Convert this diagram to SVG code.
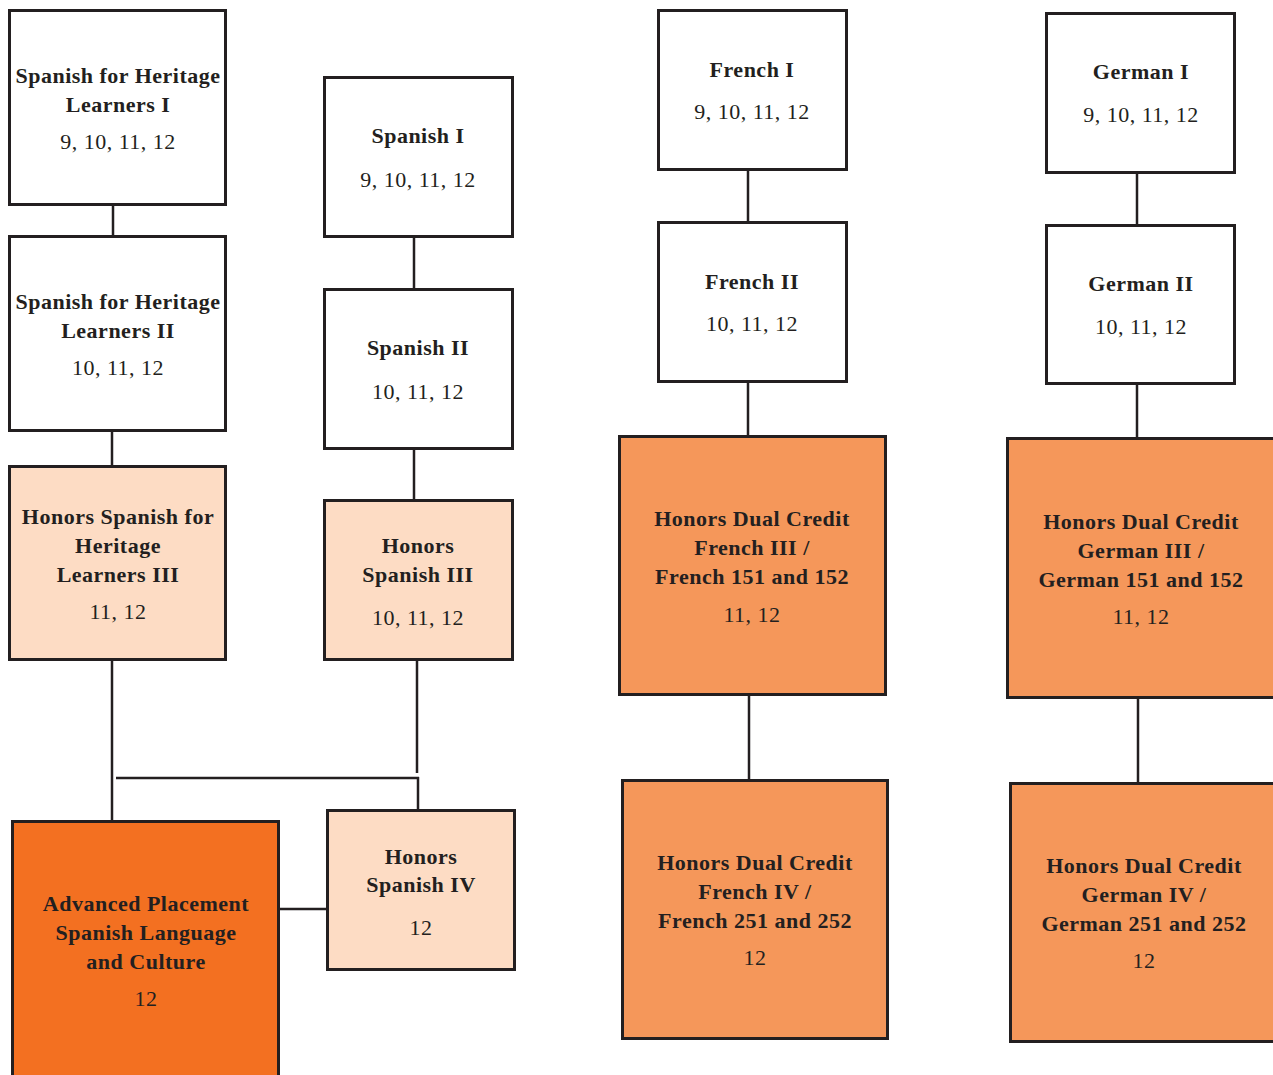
<svg xmlns="http://www.w3.org/2000/svg" width="1273" height="1075" viewBox="0 0 1273 1075">
<style>
rect{stroke:#231f20;stroke-width:3}
.w{fill:#fff}
.p{fill:#fddcc4}
.m{fill:#f5975a}
.d{fill:#f37021}
text{font-family:"Liberation Serif","Times New Roman",serif;fill:#231f20;text-anchor:middle;font-size:22px;letter-spacing:0.5px}
.b{font-weight:bold}
#conn line{stroke:#231f20;stroke-width:2.5}
</style>
<rect x="0" y="0" width="1273" height="1075" fill="#fff" style="stroke:none"/>
<g id="conn">
<line x1="113" y1="204" x2="113" y2="236"/>
<line x1="112" y1="431" x2="112" y2="466"/>
<line x1="112" y1="660" x2="112" y2="821"/>
<line x1="414" y1="237" x2="414" y2="289"/>
<line x1="414" y1="449" x2="414" y2="500"/>
<line x1="417" y1="660" x2="417" y2="773"/>
<line x1="116" y1="778" x2="419" y2="778"/>
<line x1="418" y1="777" x2="418" y2="810"/>
<line x1="279" y1="909" x2="327" y2="909"/>
<line x1="748" y1="170" x2="748" y2="222"/>
<line x1="748" y1="382" x2="748" y2="436"/>
<line x1="749" y1="695" x2="749" y2="780"/>
<line x1="1137" y1="173" x2="1137" y2="225"/>
<line x1="1137" y1="384" x2="1137" y2="438"/>
<line x1="1138" y1="698" x2="1138" y2="783"/>
</g>
<g id="shl1"><rect class="w" x="9.5" y="10.5" width="216" height="194"/>
<text class="b" x="118" y="83">Spanish for Heritage</text><text class="b" x="118" y="112">Learners I</text><text x="118" y="149">9, 10, 11, 12</text></g>
<g id="shl2"><rect class="w" x="9.5" y="236.5" width="216" height="194"/>
<text class="b" x="118" y="309">Spanish for Heritage</text><text class="b" x="118" y="338">Learners II</text><text x="118" y="375">10, 11, 12</text></g>
<g id="shl3"><rect class="p" x="9.5" y="466.5" width="216" height="193"/>
<text class="b" x="118" y="524">Honors Spanish for</text><text class="b" x="118" y="553">Heritage</text><text class="b" x="118" y="582">Learners III</text><text x="118" y="619">11, 12</text></g>
<g id="sp1"><rect class="w" x="324.5" y="77.5" width="188" height="159"/>
<text class="b" x="418" y="143">Spanish I</text><text x="418" y="187">9, 10, 11, 12</text></g>
<g id="sp2"><rect class="w" x="324.5" y="289.5" width="188" height="159"/>
<text class="b" x="418" y="355">Spanish II</text><text x="418" y="399">10, 11, 12</text></g>
<g id="sp3"><rect class="p" x="324.5" y="500.5" width="188" height="159"/>
<text class="b" x="418" y="553">Honors</text><text class="b" x="418" y="582">Spanish III</text><text x="418" y="625">10, 11, 12</text></g>
<g id="ap"><rect class="d" x="12.5" y="821.5" width="266" height="260"/>
<text class="b" x="146" y="911">Advanced Placement</text><text class="b" x="146" y="940">Spanish Language</text><text class="b" x="146" y="969">and Culture</text><text x="146" y="1006">12</text></g>
<g id="sp4"><rect class="p" x="327.5" y="810.5" width="187" height="159"/>
<text class="b" x="421" y="864">Honors</text><text class="b" x="421" y="892">Spanish IV</text><text x="421" y="935">12</text></g>
<g id="fr1"><rect class="w" x="658.5" y="10.5" width="188" height="159"/>
<text class="b" x="752" y="77">French I</text><text x="752" y="119">9, 10, 11, 12</text></g>
<g id="fr2"><rect class="w" x="658.5" y="222.5" width="188" height="159"/>
<text class="b" x="752" y="289">French II</text><text x="752" y="331">10, 11, 12</text></g>
<g id="fr3"><rect class="m" x="619.5" y="436.5" width="266" height="258"/>
<text class="b" x="752" y="526">Honors Dual Credit</text><text class="b" x="752" y="555">French III /</text><text class="b" x="752" y="584">French 151 and 152</text><text x="752" y="622">11, 12</text></g>
<g id="fr4"><rect class="m" x="622.5" y="780.5" width="265" height="258"/>
<text class="b" x="755" y="870">Honors Dual Credit</text><text class="b" x="755" y="899">French IV /</text><text class="b" x="755" y="928">French 251 and 252</text><text x="755" y="965">12</text></g>
<g id="de1"><rect class="w" x="1046.5" y="13.5" width="188" height="159"/>
<text class="b" x="1141" y="79">German I</text><text x="1141" y="122">9, 10, 11, 12</text></g>
<g id="de2"><rect class="w" x="1046.5" y="225.5" width="188" height="158"/>
<text class="b" x="1141" y="291">German II</text><text x="1141" y="334">10, 11, 12</text></g>
<g id="de3"><rect class="m" x="1007.5" y="438.5" width="268" height="259"/>
<text class="b" x="1141" y="529">Honors Dual Credit</text><text class="b" x="1141" y="558">German III /</text><text class="b" x="1141" y="587">German 151 and 152</text><text x="1141" y="624">11, 12</text></g>
<g id="de4"><rect class="m" x="1010.5" y="783.5" width="268" height="258"/>
<text class="b" x="1144" y="873">Honors Dual Credit</text><text class="b" x="1144" y="902">German IV /</text><text class="b" x="1144" y="931">German 251 and 252</text><text x="1144" y="968">12</text></g>
</svg>
